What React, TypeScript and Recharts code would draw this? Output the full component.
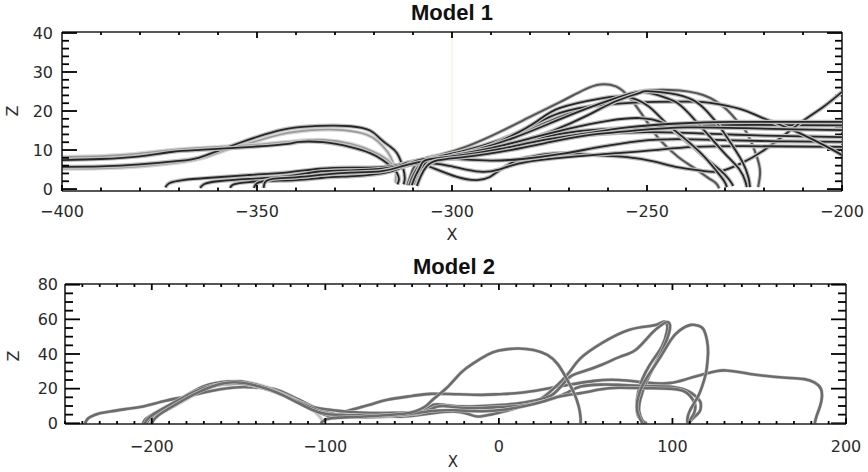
import React from 'react';
import { LineChart, Line, XAxis, YAxis, ReferenceLine } from 'recharts';

type P = [number, number];

// ---------- Model 1 field lines (x, z) ----------
const m1A1: P[] = [[-400,5.7],[-390,5.8],[-380,6.3],[-370,7.2],[-365,8],[-360,9.8],[-354,12],[-348,14],[-342,15.5],[-334,16.2],[-326,16.1],[-321,15],[-318.5,13],[-316,11],[-314.1,9.2],[-312.6,5.6],[-312.1,2.8],[-312.4,1.2]];
const m1A2: P[] = [[-400,5.2],[-390,5.3],[-380,5.8],[-370,6.8],[-363,8.2],[-358,10],[-351,12],[-344,14],[-336,15.1],[-328,15.1],[-322,14],[-319,12.2],[-316.5,9.5],[-315,6.5],[-314.2,3.5],[-314.5,1.5]];
const m1A3: P[] = [[-400,7.4],[-390,7.7],[-380,8.4],[-372,9.5],[-365,10],[-358,10.4],[-350,10.9],[-342,11.6],[-339,12.1],[-333,12],[-326.2,10.8],[-321,9.2],[-317.7,7.4],[-315.3,5.5],[-314.1,4.1],[-313.6,2.5],[-314,1.2]];
const m1A4: P[] = [[-400,8.2],[-385,8.7],[-372,10],[-360,10.8],[-350,11.4],[-340,12.3],[-333,12.6],[-326,11.6],[-320,9.5],[-316,7],[-314.4,4.5],[-314.5,2]];
const m1F1: P[] = [[-373.5,0.4],[-372.5,1.5],[-369,2.3],[-362,2.9],[-352,3.6],[-342,4.3],[-334,5.2],[-326,5.5],[-318,5.6],[-312,6.6],[-307,7.6],[-301,7.8],[-295,8.6],[-287,10.5],[-278,13],[-268,14.8],[-258,15.5],[-245,16],[-230,16.4],[-215,16.4],[-200,16.3]];
const m1F2: P[] = [[-364.6,0.3],[-363.5,1.3],[-360,2],[-352,2.6],[-342,3.3],[-334,4.5],[-326,4.8],[-318,5.2],[-313,6.2],[-310.8,6.9],[-307.5,6.3],[-304.9,5.4],[-298.7,3.1],[-293.6,2.3],[-290.3,3.1],[-287.7,4.9],[-283.3,7.4],[-279.2,8.4],[-272.3,9.2],[-262,8.6],[-255.1,8.2],[-248,7],[-242.3,5.6],[-236,4.7],[-231.5,4.5],[-226,6.5],[-219.2,10.5],[-210.8,16.9],[-205,20.9],[-200,24.9]];
const m1F3: P[] = [[-356.9,0.3],[-356,1.2],[-352,1.8],[-344,2.4],[-336,3.3],[-328,3.9],[-320,4.3],[-314,5.3],[-310,6.4],[-305,6.6],[-300,5.8],[-296,4.9],[-292,4.4],[-288,5],[-283,6.5],[-276,7.6],[-268,8.4],[-258,9.2],[-248,10],[-238,10.8],[-225,11],[-212,10.9],[-200,10.8]];
const m1F4: P[] = [[-350.8,0.3],[-350,1.5],[-347,2.1],[-340,2.3],[-333,2.9],[-325,3.3],[-318,4],[-313,5.5],[-309,7.3],[-303,7.9],[-297,7.6],[-290,7.3],[-282,7.7],[-272,9],[-262,10.8],[-252,12.3],[-242,12.8],[-228,12.5],[-214,12.2],[-200,12.1]];
const m1F5: P[] = [[-348.3,0.3],[-348,1.6],[-346,2.6],[-340,3],[-333,3.7],[-326,4.2],[-318,4.6],[-313,5.8],[-309,6.8],[-302,7.8],[-293,9.2],[-284,11],[-274,12.8],[-264,14],[-250,14.6],[-235,14.2],[-220,13.7],[-200,13.3]];
const m1R1: P[] = [[-311.5,1],[-310.6,3.5],[-309.5,6],[-307,7.8],[-303,8.8],[-296,11],[-288,14.5],[-280,18.5],[-272.3,22.3],[-266,25.5],[-262,26.8],[-258,26.3],[-255,24],[-252.6,21],[-249.5,16.5],[-246.7,12.6],[-242,8.2],[-238.2,5.6],[-234.5,3],[-232.3,1.5],[-231.5,0.2]];
const m1R2: P[] = [[-311,1],[-310,3.5],[-308.5,6],[-306,7.8],[-300,9],[-292,11],[-282,14.5],[-272.3,18.5],[-265,21],[-259.5,22.8],[-252.6,24.9],[-244.1,25.4],[-235.6,24.1],[-229.5,20.3],[-226.5,17],[-224.4,14.4],[-221.8,8.2],[-221,4.1],[-221.5,0.5]];
const m1R3: P[] = [[-310,1.5],[-309,4],[-307.5,6.5],[-304,8.2],[-297,9.8],[-288,12.5],[-280,16],[-272.3,19.5],[-262,21.5],[-250,22.3],[-240,22.4],[-233.8,22.1],[-226,20.5],[-221,18.5],[-212.6,15.1],[-203.8,10.8],[-200,8.7]];
const m1R4: P[] = [[-309.8,1.2],[-308.8,4],[-307,6.5],[-305,7.3],[-295,9.5],[-285,13.5],[-278,17.5],[-272.3,20.8],[-262,23.2],[-255.1,23.6],[-250,21.5],[-246.7,18.5],[-242,14],[-238.2,10.8],[-234.5,7.5],[-231.3,4.9],[-229,2.5],[-227.9,0.8]];
const m1R5: P[] = [[-309,1],[-308,3.5],[-306,6.4],[-302,8],[-294,10],[-284,13.2],[-274,17.2],[-265,20.8],[-258,23.3],[-251.8,24.9],[-247,24],[-242.3,22.1],[-238,18],[-233.8,13.3],[-229.5,8.5],[-226.2,4.9],[-224.8,2],[-224.4,0.5]];
const m1R6: P[] = [[-303,7.8],[-294,9],[-284,11.5],[-274,15],[-265,19],[-258,22.5],[-252,24.6],[-250,25.1],[-244,24.5],[-238.2,22.8],[-234.5,19.8],[-231.3,15.9],[-228,11],[-225.4,6.7],[-224,3],[-223.6,0.5]];
const m1R7: P[] = [[-300,8.6],[-290,10.5],[-280,13],[-270,15.5],[-260,17.5],[-252,18.2],[-246,17],[-241,13.5],[-236,9],[-232.5,5],[-230.3,2.2],[-229.5,0.5]];
const m1H1: P[] = [[-310.3,1],[-309.3,3.5],[-308,6],[-306,7.6],[-298,8.6],[-288,10.2],[-278,12.3],[-266,14.2],[-255,15.8],[-242,16.8],[-228,17.2],[-214,17.2],[-200,17.2]];
const m1H2: P[] = [[-309,0.8],[-308,3.3],[-306.5,5.8],[-303.5,7.4],[-296,8.3],[-285,10],[-275,12],[-265,13.8],[-253,15],[-240,15.8],[-225,15.6],[-212,15.3],[-200,15.1]];

// ---------- Model 2 field lines (x, z) ----------
const m2G1: P[] = [[-238.5,0],[-237.5,1.8],[-235.6,3.6],[-230,5.8],[-224,6.8],[-215,8.2],[-205,9.7],[-192,13],[-179.6,15.5],[-170,17.8],[-160.6,19.7],[-152,20.7],[-145,20.9],[-136,20.5],[-127.7,19.3],[-118,15],[-110,11],[-102.9,7.8],[-96,5.5],[-92,5.2],[-88.5,6.8],[-75,10.5],[-64.3,13.6],[-50,15.8],[-39.5,17],[-25,16.8],[-10,16.4],[0,16.8],[12.5,17.6],[25,19.5],[40,22.2],[55,24.5],[69,25],[85,23.5],[98,23.2],[108,25.5],[116.9,28],[125,30],[131,30.5],[140,29.3],[148,28],[165.4,26.3],[176,25.5],[182,23.5],[185.5,20],[186.1,15],[185,9.7],[183,4],[182,0]];
const m2G3: P[] = [[-205,0],[-203.5,2.5],[-199,5.5],[-195,7.8],[-187,12],[-179.6,16.4],[-170.4,21.2],[-163,23.3],[-156.6,24.1],[-150,24.2],[-145,23.5],[-135,21],[-127.7,18.3],[-118,14],[-110,9.5],[-103,6],[-96,3.8],[-88.5,3.9],[-74,3.6],[-62,3.9],[-55,3.9],[-45,4.9],[-35,6.2],[-26,6.8],[-18,5.5],[-12.3,3.9],[-5,5],[2.7,6.8],[12.5,9.5],[22.3,13],[31.5,20],[40.2,29],[47.1,37.6],[59.3,46.3],[74.8,53.9],[88.1,56.3],[93,57.8],[95.5,58.7],[97,56.5],[96.8,53],[93.9,44.3],[86.4,32.8],[80.6,19.3],[79.5,7.8],[81,3],[83.5,1],[85.2,0]];
const m2G4: P[] = [[-203,0],[-201,3],[-196,6.5],[-190,9.5],[-182,14],[-175,17.5],[-167,20.7],[-158,22.5],[-150,22.8],[-142,21.8],[-132,19],[-120,14.5],[-110,10.5],[-102.9,8.5],[-95,7.5],[-88.5,6.8],[-74,5.9],[-60,6],[-45.2,6.8],[-37.7,10.7],[-30,10.4],[-16.4,9.7],[0,10.5],[12.5,11.7],[22,13.5],[31.5,17],[40,26],[47.1,29.5],[59.3,33.8],[70,38.5],[78.9,42.4],[88.1,52],[94,57],[96.8,58.5],[98.5,57],[98,52],[95,44],[90,34],[85,24],[81.5,14],[80.8,7],[82.5,2],[84,0]];
const m2G5: P[] = [[-201,0],[-199.5,2.5],[-195,5.5],[-186,10.5],[-178,15],[-170,19.5],[-162,22.6],[-153,24],[-145,23.8],[-137,22],[-127,18.5],[-117,13.5],[-108,8],[-103,3.5],[-101.7,1],[-102.5,0]];
const m2D1: P[] = [[-204,0],[-202,3],[-197,6.5],[-190,10.5],[-182,14.8],[-174,18.8],[-165,21.8],[-155,23.2],[-147,22.8],[-140,21.5],[-128,18],[-118,13.5],[-108,9],[-102.9,6.8],[-95,4.5],[-88.5,3.9],[-74,3.6],[-60,4.5],[-45.2,5.9],[-35.4,9.7],[-25,9.3],[-12.3,8.8],[0,9.4],[12.5,10.1],[22,11.8],[31.5,14.5],[40,18],[47.1,21.2],[58,22.3],[69,22.2],[85,21.5],[97.9,21.2],[106,19.8],[111.1,17.4],[115,14],[116.3,11.6],[116,7.5],[114,4.9],[111,2],[109.4,0]];
const m2D2: P[] = [[-200,0],[-198,3],[-193,6.8],[-185,11.5],[-176,16.5],[-166,21],[-157,23.4],[-148,23.4],[-138,21.2],[-128,17.8],[-118,13],[-108,8],[-100,5.5],[-90,4.8],[-74,4.5],[-55,5],[-40,7],[-26,7.5],[-10,7],[2.7,7.8],[15,10],[25,12.5],[35,15.5],[47.1,17.4],[58,19.5],[69,20.5],[85,20.3],[97.9,20],[106,18.8],[110,16],[113,11],[112.5,6],[110.5,2.5],[108.5,0]];
const m2G2: P[] = [[-102.5,0],[-101.7,1],[-99,2.5],[-92,3.3],[-80,3.8],[-68,4.5],[-55,5.5],[-48,7],[-42,10],[-37.7,14],[-30,20.5],[-22.1,29],[-15,34.5],[-6.7,39.5],[0,42],[10.6,43.2],[20,42.3],[27.9,39.5],[34,34],[39.4,25.1],[43.5,17],[46,9.7],[47,4],[47.1,0]];
const m2LoopB: P[] = [[82.8,0],[80.7,4],[79.5,9.7],[81,17.6],[85.7,27],[93.2,38.5],[99,48],[104,53.5],[110.6,56.8],[115,56.3],[118.1,53.9],[120.4,44.3],[120.2,36],[119.3,29],[117,21],[114.7,15.4],[111.5,10],[109.5,6],[108.6,2.5],[108.8,0]];

// ---------- ticks ----------
const range = (a: number, b: number, s: number) => {
  const r: number[] = [];
  for (let v = a; v <= b + 1e-9; v += s) r.push(Math.round(v * 1000) / 1000);
  return r;
};
const m1XTicks = range(-400, -200, 10);
const m1XMajor = [-400, -350, -300, -250, -200];
const m1YTicks = range(0, 40, 2);
const m1YMajor = [0, 10, 20, 30, 40];
const m2XTicks = range(-250, 200, 10);
const m2XMajor = [-200, -100, 0, 100, 200];
const m2YTicks = range(0, 80, 5);
const m2YMajor = [0, 20, 40, 60, 80];

const toPts = (arr: P[]) => arr.map(([x, z]) => ({ x, z }));
const fmt = (v: number) => (v < 0 ? '\u2212' + Math.abs(v) : String(v));
const FRAME = '#1e1e1e';
const TICK = '#000000';
const TW = 1.8;
const LABEL_FONT = '"DejaVu Sans", sans-serif';

function makeTick(side: string, majors: number[], majorLen: number, minorLen: number, gap: number) {
  return function TickMark(props: any) {
    const x = Number(props.x);
    const y = Number(props.y);
    const v = props.payload.value;
    const isMajor = majors.indexOf(v) >= 0;
    const len = isMajor ? majorLen : minorLen;
    if (side === 'left') {
      return (
        <g>
          <line x1={x} y1={y} x2={x + len} y2={y} stroke={TICK} strokeWidth={TW} />
          {isMajor ? <text x={x - gap} y={y} dy="0.36em" textAnchor="end" fontFamily={LABEL_FONT} fontSize={16} fill="#2a2a2a">{fmt(v)}</text> : null}
        </g>
      );
    }
    return (
      <g>
        <line x1={x} y1={y} x2={x} y2={y - len} stroke={TICK} strokeWidth={TW} />
        {isMajor ? <text x={x} y={y + gap} textAnchor="middle" fontFamily={LABEL_FONT} fontSize={16} fill="#2a2a2a">{fmt(v)}</text> : null}
      </g>
    );
  };
}

function topRight(key: string, xTicks: number[], xMajor: number[], yTicks: number[], yMajor: number[],
  xDom: [number, number], yDom: [number, number], pxX: number, pxY: number,
  xLen: [number, number], yLen: [number, number]) {
  const out: any[] = [];
  out.push(<ReferenceLine key={key + 'ft'} segment={[{ x: xDom[0], y: yDom[1] }, { x: xDom[1], y: yDom[1] }]} stroke={FRAME} strokeWidth={1.6} ifOverflow="visible" />);
  out.push(<ReferenceLine key={key + 'fr'} segment={[{ x: xDom[1], y: yDom[0] }, { x: xDom[1], y: yDom[1] }]} stroke={FRAME} strokeWidth={1.6} ifOverflow="visible" />);
  xTicks.forEach((v, i) => {
    if (v <= xDom[0] || v >= xDom[1]) return;
    const L = (xMajor.indexOf(v) >= 0 ? xLen[0] : xLen[1]) / pxY;
    out.push(<ReferenceLine key={key + 't' + i} segment={[{ x: v, y: yDom[1] }, { x: v, y: yDom[1] - L }]} stroke={TICK} strokeWidth={TW} ifOverflow="visible" />);
  });
  yTicks.forEach((v, i) => {
    const L = (yMajor.indexOf(v) >= 0 ? yLen[0] : yLen[1]) / pxX;
    out.push(<ReferenceLine key={key + 'r' + i} segment={[{ x: xDom[1], y: v }, { x: xDom[1] - L, y: v }]} stroke={TICK} strokeWidth={TW} ifOverflow="visible" />);
  });
  return out;
}

const m1Dark: P[][] = [m1A1, m1A3, m1F1, m1F2, m1F3, m1F4, m1F5, m1R3, m1R4, m1R5, m1R6, m1R7, m1H1, m1H2];
const m1Mid: P[][] = [m1R1, m1R2];
const m1Light: P[][] = [m1A2, m1A4];

const m2Main: P[][] = [m2G1, m2G3, m2G4, m2D1, m2D2, m2G2, m2LoopB];
const m2Light: P[][] = [m2G5];

function tube(arr: P[], key: string, core: string, halo: string, coreW: number, haloW: number) {
  return [
    <Line key={key + 'h'} data={toPts(arr)} dataKey="z" type="natural" stroke={halo} strokeWidth={haloW} dot={false} activeDot={false} isAnimationActive={false} />,
    <Line key={key + 'c'} data={toPts(arr)} dataKey="z" type="natural" stroke={core} strokeWidth={coreW} dot={false} activeDot={false} isAnimationActive={false} />,
  ];
}

const AX = 30;
const M1X: [number, number] = [-400, -200];
const M1Y: [number, number] = [-0.5, 40.25];
const M2X: [number, number] = [-250, 200];
const M2Y: [number, number] = [-0.4, 80.4];

const tick1B = makeTick('bottom', m1XMajor, 6, 3.5, 26);
const tick1L = makeTick('left', m1YMajor, 15, 7, 9);
const tick2B = makeTick('bottom', m2XMajor, 6, 3, 28);
const tick2L = makeTick('left', m2YMajor, 15, 8, 7);

export default function App() {
  const axisLine = { stroke: FRAME, strokeWidth: 1.6 };
  return (
    <div style={{ position: 'absolute', left: 0, top: 0, width: 868, height: 472, background: '#fff' }}>
      <div style={{ position: 'absolute', left: 0, top: 0 }}>
        <LineChart width={868} height={250} margin={{ top: 32, right: 26, bottom: 59 - AX, left: 62 - AX }}>
          <XAxis type="number" dataKey="x" domain={M1X} allowDataOverflow ticks={m1XTicks} interval={0} height={AX} tickSize={0} tickMargin={0} tickLine={false} axisLine={axisLine} tick={tick1B} />
          <YAxis type="number" domain={M1Y} allowDataOverflow ticks={m1YTicks} interval={0} width={AX} tickSize={0} tickMargin={0} tickLine={false} axisLine={axisLine} tick={tick1L} />
          <ReferenceLine segment={[{ x: -300, y: 8 }, { x: -300, y: 40.2 }]} stroke="#f2eec6" strokeWidth={1} ifOverflow="hidden" />
          {topRight('a', m1XTicks, m1XMajor, m1YTicks, m1YMajor, M1X, M1Y, 3.9, 3.9, [6, 3], [15, 7])}
          {m1Light.map((a, i) => tube(a, 'l' + i, '#9a9a9a', '#d6d6d6', 1.6, 4))}
          {m1Mid.map((a, i) => tube(a, 'm' + i, '#555555', '#c8c8c8', 2, 4))}
          {m1Dark.map((a, i) => tube(a, 'd' + i, '#262626', '#bdbdbd', 1.8, 4.2))}
        </LineChart>
      </div>
      <div style={{ position: 'absolute', left: 0, top: 250 }}>
        <LineChart width={868} height={222} margin={{ top: 34, right: 22, bottom: 48 - AX, left: 65 - AX }}>
          <XAxis type="number" dataKey="x" domain={M2X} allowDataOverflow ticks={m2XTicks} interval={0} height={AX} tickSize={0} tickMargin={0} tickLine={false} axisLine={axisLine} tick={tick2B} />
          <YAxis type="number" domain={M2Y} allowDataOverflow ticks={m2YTicks} interval={0} width={AX} tickSize={0} tickMargin={0} tickLine={false} axisLine={axisLine} tick={tick2L} />
          {topRight('b', m2XTicks, m2XMajor, m2YTicks, m2YMajor, M2X, M2Y, 1.7356, 1.7327, [6, 3], [15, 8])}
          {m2Light.map((a, i) => tube(a, 'l' + i, '#c2c2c2', '#e2e2e2', 2.2, 3.6))}
          {m2Main.map((a, i) => tube(a, 'g' + i, '#6c6c6c', '#d0d0d0', 2.6, 3.6))}
        </LineChart>
      </div>
      <svg width={868} height={472} style={{ position: 'absolute', left: 0, top: 0, pointerEvents: 'none' }}>
        <text x={452} y={20} textAnchor="middle" fontFamily='"Liberation Sans", Arial, sans-serif' fontWeight={700} fontSize={22} fill="#111">Model 1</text>
        <text x={454} y={274} textAnchor="middle" fontFamily='"Liberation Sans", Arial, sans-serif' fontWeight={700} fontSize={22} fill="#111">Model 2</text>
        <text x={452} y={240} textAnchor="middle" fontFamily={LABEL_FONT} fontSize={16} fill="#2a2a2a">X</text>
        <text x={453} y={467} textAnchor="middle" fontFamily={LABEL_FONT} fontSize={15} fill="#2a2a2a">X</text>
        <text x={12} y={111} textAnchor="middle" dy="0.36em" transform="rotate(-90 12 111)" fontFamily={LABEL_FONT} fontSize={16} fill="#2a2a2a">Z</text>
        <text x={13} y={356} textAnchor="middle" dy="0.36em" transform="rotate(-90 13 356)" fontFamily={LABEL_FONT} fontSize={16} fill="#2a2a2a">Z</text>
      </svg>
    </div>
  );
}
